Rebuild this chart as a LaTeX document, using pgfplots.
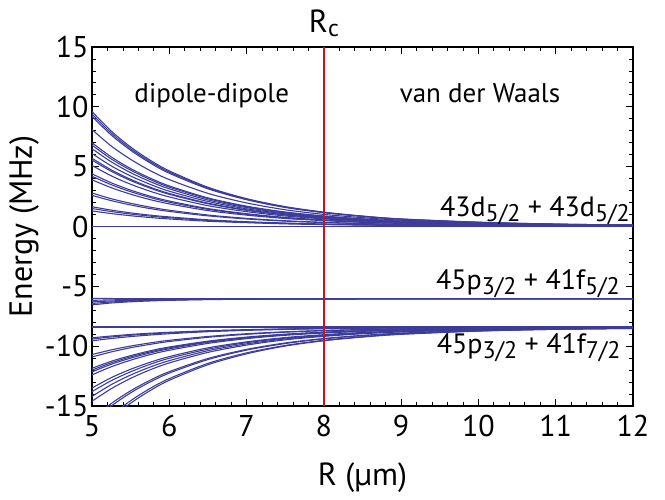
\documentclass[border=0pt]{standalone}
\usepackage{fontspec}
\setmainfont{PT Sans}
\usepackage{pgfplots}
\pgfplotsset{compat=1.18}
\definecolor{lineblue}{RGB}{60,60,155}
\definecolor{rcred}{RGB}{200,20,30}
\newcommand\sub[1]{\raisebox{-5bp}{\fontsize{24bp}{24bp}\selectfont #1}}
\begin{document}
\begin{tikzpicture}
\useasboundingbox (-92bp,-94bp) rectangle (573bp,406bp);
\begin{axis}[
 at={(0,0)}, anchor=south west,
 width=541bp, height=359bp, scale only axis,
 xmin=5, xmax=12, ymin=-15, ymax=15,
 xtick={5,...,12}, ytick={-15,-10,...,15},
 minor x tick num=4, minor y tick num=4,
 tick align=inside, tick pos=both,
 major tick length=7bp, minor tick length=4bp,
 axis line style={line width=1.2bp},
 tick style={black, line width=0.8bp},
 tick label style={font=\fontsize{30bp}{32bp}\selectfont},
 /pgf/number format/assume math mode=true,
 xticklabel style={yshift=-6bp},
 cycle list={lineblue,solid,line width=1.1bp,mark=none,smooth\\},
]
% upper group: 43d5/2 + 43d5/2
\addplot coordinates {(5,0)(12,0)};
\addplot coordinates {(5,9.60)(5.25,7.97)(5.5,6.64)(5.75,5.55)(6,4.65)(6.5,3.28)(7,2.33)(7.5,1.66)(8,1.20)(8.5,0.87)(9,0.63)(10,0.36)(11,0.20)(12,0.12)};
\addplot coordinates {(5,9.40)(5.25,7.80)(5.5,6.50)(5.75,5.43)(6,4.55)(6.5,3.21)(7,2.28)(7.5,1.63)(8,1.18)(8.5,0.86)(9,0.62)(10,0.35)(11,0.20)(12,0.12)};
\addplot coordinates {(5,9.20)(5.25,7.64)(5.5,6.37)(5.75,5.32)(6,4.45)(6.5,3.15)(7,2.24)(7.5,1.59)(8,1.15)(8.5,0.84)(9,0.61)(10,0.34)(11,0.19)(12,0.12)};
\addplot coordinates {(5,8.10)(5.25,6.72)(5.5,5.61)(5.75,4.68)(6,3.92)(6.5,2.77)(7,1.97)(7.5,1.40)(8,1.01)(8.5,0.74)(9,0.53)(10,0.30)(11,0.17)(12,0.11)};
\addplot coordinates {(5,7.00)(5.25,5.81)(5.5,4.84)(5.75,4.05)(6,3.39)(6.5,2.39)(7,1.70)(7.5,1.21)(8,0.88)(8.5,0.64)(9,0.46)(10,0.26)(11,0.15)(12,0.09)};
\addplot coordinates {(5,6.80)(5.25,5.64)(5.5,4.71)(5.75,3.93)(6,3.29)(6.5,2.33)(7,1.65)(7.5,1.18)(8,0.85)(8.5,0.62)(9,0.45)(10,0.25)(11,0.14)(12,0.09)};
\addplot coordinates {(5,6.50)(5.25,5.40)(5.5,4.50)(5.75,3.76)(6,3.15)(6.5,2.22)(7,1.58)(7.5,1.12)(8,0.81)(8.5,0.59)(9,0.43)(10,0.24)(11,0.14)(12,0.08)};
\addplot coordinates {(5,6.10)(5.25,5.06)(5.5,4.22)(5.75,3.53)(6,2.95)(6.5,2.09)(7,1.48)(7.5,1.06)(8,0.76)(8.5,0.56)(9,0.40)(10,0.23)(11,0.13)(12,0.08)};
\addplot coordinates {(5,5.70)(5.25,4.73)(5.5,3.94)(5.75,3.29)(6,2.76)(6.5,1.95)(7,1.39)(7.5,0.99)(8,0.71)(8.5,0.52)(9,0.38)(10,0.21)(11,0.12)(12,0.07)};
\addplot coordinates {(5,5.55)(5.25,4.61)(5.5,3.84)(5.75,3.21)(6,2.69)(6.5,1.90)(7,1.35)(7.5,0.96)(8,0.69)(8.5,0.51)(9,0.37)(10,0.21)(11,0.12)(12,0.07)};
\addplot coordinates {(5,5.10)(5.25,4.23)(5.5,3.53)(5.75,2.95)(6,2.47)(6.5,1.74)(7,1.24)(7.5,0.88)(8,0.64)(8.5,0.46)(9,0.34)(10,0.19)(11,0.11)(12,0.07)};
\addplot coordinates {(5,4.40)(5.25,3.65)(5.5,3.04)(5.75,2.54)(6,2.13)(6.5,1.50)(7,1.07)(7.5,0.76)(8,0.55)(8.5,0.40)(9,0.29)(10,0.16)(11,0.09)(12,0.06)};
\addplot coordinates {(5,4.20)(5.25,3.49)(5.5,2.91)(5.75,2.43)(6,2.03)(6.5,1.44)(7,1.02)(7.5,0.73)(8,0.53)(8.5,0.38)(9,0.28)(10,0.16)(11,0.09)(12,0.05)};
\addplot coordinates {(5,3.90)(5.25,3.24)(5.5,2.70)(5.75,2.25)(6,1.89)(6.5,1.33)(7,0.95)(7.5,0.67)(8,0.49)(8.5,0.35)(9,0.26)(10,0.14)(11,0.08)(12,0.05)};
\addplot coordinates {(5,2.80)(5.25,2.32)(5.5,1.94)(5.75,1.62)(6,1.36)(6.5,0.96)(7,0.68)(7.5,0.48)(8,0.35)(8.5,0.25)(9,0.18)(10,0.10)(11,0.06)(12,0.04)};
\addplot coordinates {(5,2.60)(5.25,2.16)(5.5,1.80)(5.75,1.50)(6,1.26)(6.5,0.89)(7,0.63)(7.5,0.45)(8,0.33)(8.5,0.24)(9,0.17)(10,0.10)(11,0.05)(12,0.03)};
\addplot coordinates {(5,1.65)(5.25,1.37)(5.5,1.14)(5.75,0.95)(6,0.80)(6.5,0.56)(7,0.40)(7.5,0.29)(8,0.21)(8.5,0.15)(9,0.11)(10,0.06)(11,0.03)(12,0.02)};
\addplot coordinates {(5,1.50)(5.25,1.25)(5.5,1.04)(5.75,0.87)(6,0.73)(6.5,0.51)(7,0.36)(7.5,0.26)(8,0.19)(8.5,0.14)(9,0.10)(10,0.06)(11,0.03)(12,0.02)};
\addplot coordinates {(5,1.30)(5.25,1.08)(5.5,0.90)(5.75,0.75)(6,0.63)(6.5,0.44)(7,0.32)(7.5,0.22)(8,0.16)(8.5,0.12)(9,0.09)(10,0.05)(11,0.03)(12,0.02)};
% middle group: 45p3/2 + 41f5/2
\addplot coordinates {(5,-6.05)(12,-6.05)};
\addplot coordinates {(5,-6.00)(5.25,-6.02)(5.5,-6.03)(5.75,-6.03)(6,-6.04)(6.5,-6.04)(7,-6.05)(12,-6.05)};
\addplot coordinates {(5,-6.17)(5.25,-6.13)(5.5,-6.11)(5.75,-6.09)(6,-6.08)(6.5,-6.06)(7,-6.06)(7.5,-6.05)(12,-6.05)};
\addplot coordinates {(5,-6.30)(5.25,-6.22)(5.5,-6.17)(5.75,-6.13)(6,-6.11)(6.5,-6.08)(7,-6.06)(7.5,-6.06)(8,-6.05)(12,-6.05)};
\addplot coordinates {(5,-6.43)(5.25,-6.31)(5.5,-6.23)(5.75,-6.18)(6,-6.14)(6.5,-6.09)(7,-6.07)(7.5,-6.06)(8,-6.06)(9,-6.05)(12,-6.05)};
\addplot coordinates {(5,-6.55)(5.25,-6.39)(5.5,-6.29)(5.75,-6.22)(6,-6.17)(6.5,-6.11)(7,-6.08)(7.5,-6.07)(8,-6.06)(9,-6.05)(12,-6.05)};
% lower group: 45p3/2 + 41f7/2
\addplot coordinates {(5,-8.40)(12,-8.40)};
\addplot coordinates {(5,-9.30)(5.25,-9.15)(5.5,-9.02)(5.75,-8.92)(6,-8.84)(6.5,-8.71)(7,-8.62)(7.5,-8.56)(8,-8.51)(8.5,-8.48)(9,-8.46)(10,-8.43)(11,-8.42)(12,-8.41)};
\addplot coordinates {(5,-9.40)(5.25,-9.23)(5.5,-9.09)(5.75,-8.98)(6,-8.88)(6.5,-8.74)(7,-8.64)(7.5,-8.57)(8,-8.53)(8.5,-8.49)(9,-8.47)(10,-8.44)(11,-8.42)(12,-8.41)};
\addplot coordinates {(5,-9.55)(5.25,-9.36)(5.5,-9.20)(5.75,-9.07)(6,-8.96)(6.5,-8.79)(7,-8.68)(7.5,-8.60)(8,-8.54)(8.5,-8.51)(9,-8.48)(10,-8.44)(11,-8.42)(12,-8.42)};
\addplot coordinates {(5,-10.70)(5.25,-10.31)(5.5,-9.99)(5.75,-9.73)(6,-9.51)(6.5,-9.19)(7,-8.96)(7.5,-8.80)(8,-8.69)(8.5,-8.61)(9,-8.55)(10,-8.49)(11,-8.45)(12,-8.43)};
\addplot coordinates {(5,-10.90)(5.25,-10.48)(5.5,-10.13)(5.75,-9.85)(6,-9.61)(6.5,-9.26)(7,-9.01)(7.5,-8.83)(8,-8.71)(8.5,-8.63)(9,-8.57)(10,-8.49)(11,-8.45)(12,-8.43)};
\addplot coordinates {(5,-11.85)(5.25,-11.26)(5.5,-10.79)(5.75,-10.39)(6,-10.07)(6.5,-9.58)(7,-9.24)(7.5,-9.00)(8,-8.83)(8.5,-8.71)(9,-8.63)(10,-8.53)(11,-8.47)(12,-8.45)};
\addplot coordinates {(5,-12.00)(5.25,-11.39)(5.5,-10.89)(5.75,-10.48)(6,-10.14)(6.5,-9.63)(7,-9.28)(7.5,-9.02)(8,-8.85)(8.5,-8.73)(9,-8.64)(10,-8.53)(11,-8.48)(12,-8.45)};
\addplot coordinates {(5,-12.15)(5.25,-11.51)(5.5,-11.00)(5.75,-10.57)(6,-10.22)(6.5,-9.68)(7,-9.31)(7.5,-9.05)(8,-8.87)(8.5,-8.74)(9,-8.65)(10,-8.54)(11,-8.48)(12,-8.45)};
\addplot coordinates {(5,-12.40)(5.25,-11.72)(5.5,-11.17)(5.75,-10.71)(6,-10.34)(6.5,-9.77)(7,-9.37)(7.5,-9.09)(8,-8.90)(8.5,-8.76)(9,-8.66)(10,-8.55)(11,-8.48)(12,-8.45)};
\addplot coordinates {(5,-13.50)(5.25,-12.63)(5.5,-11.93)(5.75,-11.35)(6,-10.87)(6.5,-10.14)(7,-9.64)(7.5,-9.28)(8,-9.04)(8.5,-8.86)(9,-8.74)(10,-8.59)(11,-8.51)(12,-8.47)};
\addplot coordinates {(5,-13.80)(5.25,-12.88)(5.5,-12.14)(5.75,-11.52)(6,-11.01)(6.5,-10.25)(7,-9.71)(7.5,-9.33)(8,-9.08)(8.5,-8.89)(9,-8.76)(10,-8.60)(11,-8.51)(12,-8.47)};
\addplot coordinates {(5,-14.20)(5.25,-13.21)(5.5,-12.41)(5.75,-11.75)(6,-11.21)(6.5,-10.38)(7,-9.81)(7.5,-9.40)(8,-9.13)(8.5,-8.93)(9,-8.78)(10,-8.62)(11,-8.52)(12,-8.48)};
\addplot coordinates {(5,-14.60)(5.25,-13.55)(5.5,-12.69)(5.75,-11.98)(6,-11.40)(6.5,-10.52)(7,-9.91)(7.5,-9.47)(8,-9.18)(8.5,-8.96)(9,-8.81)(10,-8.63)(11,-8.53)(12,-8.48)};
\addplot coordinates {(5,-16.10)(5.25,-14.79)(5.5,-13.73)(5.75,-12.85)(6,-12.13)(6.5,-11.03)(7,-10.27)(7.5,-9.73)(8,-9.36)(8.5,-9.10)(9,-8.91)(10,-8.69)(11,-8.56)(12,-8.50)};
\addplot coordinates {(5,-16.35)(5.25,-15.00)(5.5,-13.90)(5.75,-13.00)(6,-12.25)(6.5,-11.12)(7,-10.33)(7.5,-9.78)(8,-9.39)(8.5,-9.12)(9,-8.93)(10,-8.69)(11,-8.57)(12,-8.50)};
\addplot coordinates {(5,-17.30)(5.25,-15.79)(5.5,-14.56)(5.75,-13.54)(6,-12.71)(6.5,-11.44)(7,-10.56)(7.5,-9.94)(8,-9.51)(8.5,-9.21)(9,-8.99)(10,-8.73)(11,-8.59)(12,-8.52)};
\addplot coordinates {(5,-17.60)(5.25,-16.04)(5.5,-14.77)(5.75,-13.72)(6,-12.85)(6.5,-11.55)(7,-10.64)(7.5,-9.99)(8,-9.55)(8.5,-9.24)(9,-9.01)(10,-8.74)(11,-8.59)(12,-8.52)};
% R_c line
\addplot[rcred, line width=1.6bp, sharp plot] coordinates {(8,-15)(8,15)};
% annotations
\node[anchor=base, inner sep=0pt, font=\fontsize{27bp}{27bp}\selectfont] at (axis cs:6.55,10.4) {dipole-dipole};
\node[anchor=base, inner sep=0pt, font=\fontsize{27bp}{27bp}\selectfont] at (axis cs:10.02,10.4) {van der Waals};
\node[anchor=base east, inner sep=0pt, font=\fontsize{28bp}{28bp}\selectfont] at (axis cs:11.96,0.82) {43d\sub{5/2} + 43d\sub{5/2}};
\node[anchor=base east, inner sep=0pt, font=\fontsize{28bp}{28bp}\selectfont] at (axis cs:11.83,-5.3) {45p\sub{3/2} + 41f\sub{5/2}};
\node[anchor=base east, inner sep=0pt, font=\fontsize{28bp}{28bp}\selectfont] at (axis cs:11.84,-10.65) {45p\sub{3/2} + 41f\sub{7/2}};
\end{axis}
\node[anchor=base, inner sep=0pt, font=\fontsize{32bp}{32bp}\selectfont] at (270.5bp,-79bp) {R (µm)};
\node[rotate=90, anchor=base, inner sep=0pt, font=\fontsize{32bp}{32bp}\selectfont] at (-60bp,179.5bp) {Energy (MHz)};
\node[anchor=base, inner sep=0pt, font=\fontsize{32bp}{32bp}\selectfont] at (231.9bp,373bp) {R\raisebox{-4bp}{\fontsize{24bp}{24bp}\selectfont c}};
\end{tikzpicture}
\end{document}
